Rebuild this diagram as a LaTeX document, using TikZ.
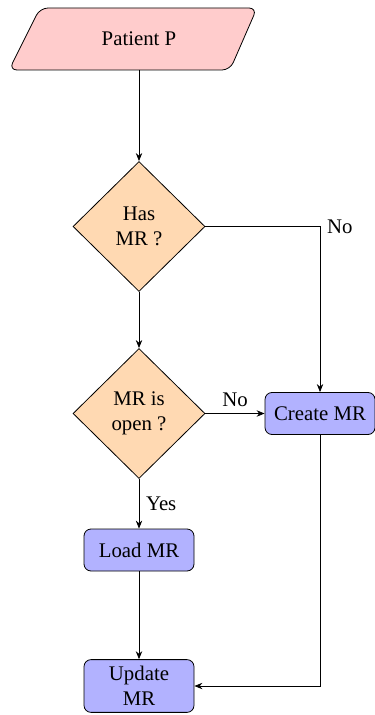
\documentclass[tikz,border=0pt]{standalone}
\usepackage{fontspec}
\setmainfont{Liberation Serif}
\usetikzlibrary{shapes.geometric,arrows.meta}
\begin{document}
\begin{tikzpicture}[x=0.5pt,y=-0.5pt,
  every node/.style={font=\fontsize{10.4}{12.5}\selectfont},
  iobox/.style={fill=red!20, draw, rounded corners=4pt},
  decision/.style={diamond, draw, fill=orange!30, align=center,
    minimum width=66pt, minimum height=65pt, inner sep=0pt},
  process/.style={rectangle, rounded corners=3.5pt, draw, fill=blue!30,
    align=center, minimum width=55pt, minimum height=21pt},
  flow/.style={-{Stealth[length=4pt,width=3.2pt]}}]
\useasboundingbox (0,0) rectangle (374,715);

% input parallelogram
\draw[iobox] (40,8) -- (257,8) -- (230,70) -- (9,70) -- cycle;
\node[minimum width=100pt, minimum height=31pt, outer sep=0pt] (pat) at (139,39) {Patient P};

% decisions and actions
\node[decision] (d1) at (139,226.5) {Has\\MR ?};
\node[decision] (d2) at (139,413.5) {MR is\\open ?};
\node[process]  (cm) at (320,413.5) {Create MR};
\node[process]  (ld) at (139,550) {Load MR};
\node[process]  (up) at (139,686) {Update\\MR};

% connectors
\draw[flow] (pat.south) -- (d1.north);
\draw[flow] (d1.east) -| node[pos=0.5,right] {No} (cm.north);
\draw[flow] (d1.south) -- (d2.north);
\draw[flow] (d2.east) -- node[above] {No} (cm.west);
\draw[flow] (d2.south) -- node[right] {Yes} (ld.north);
\draw[flow] (ld.south) -- (up.north);
\draw[flow] (cm.south) |- (up.east);
\end{tikzpicture}
\end{document}
